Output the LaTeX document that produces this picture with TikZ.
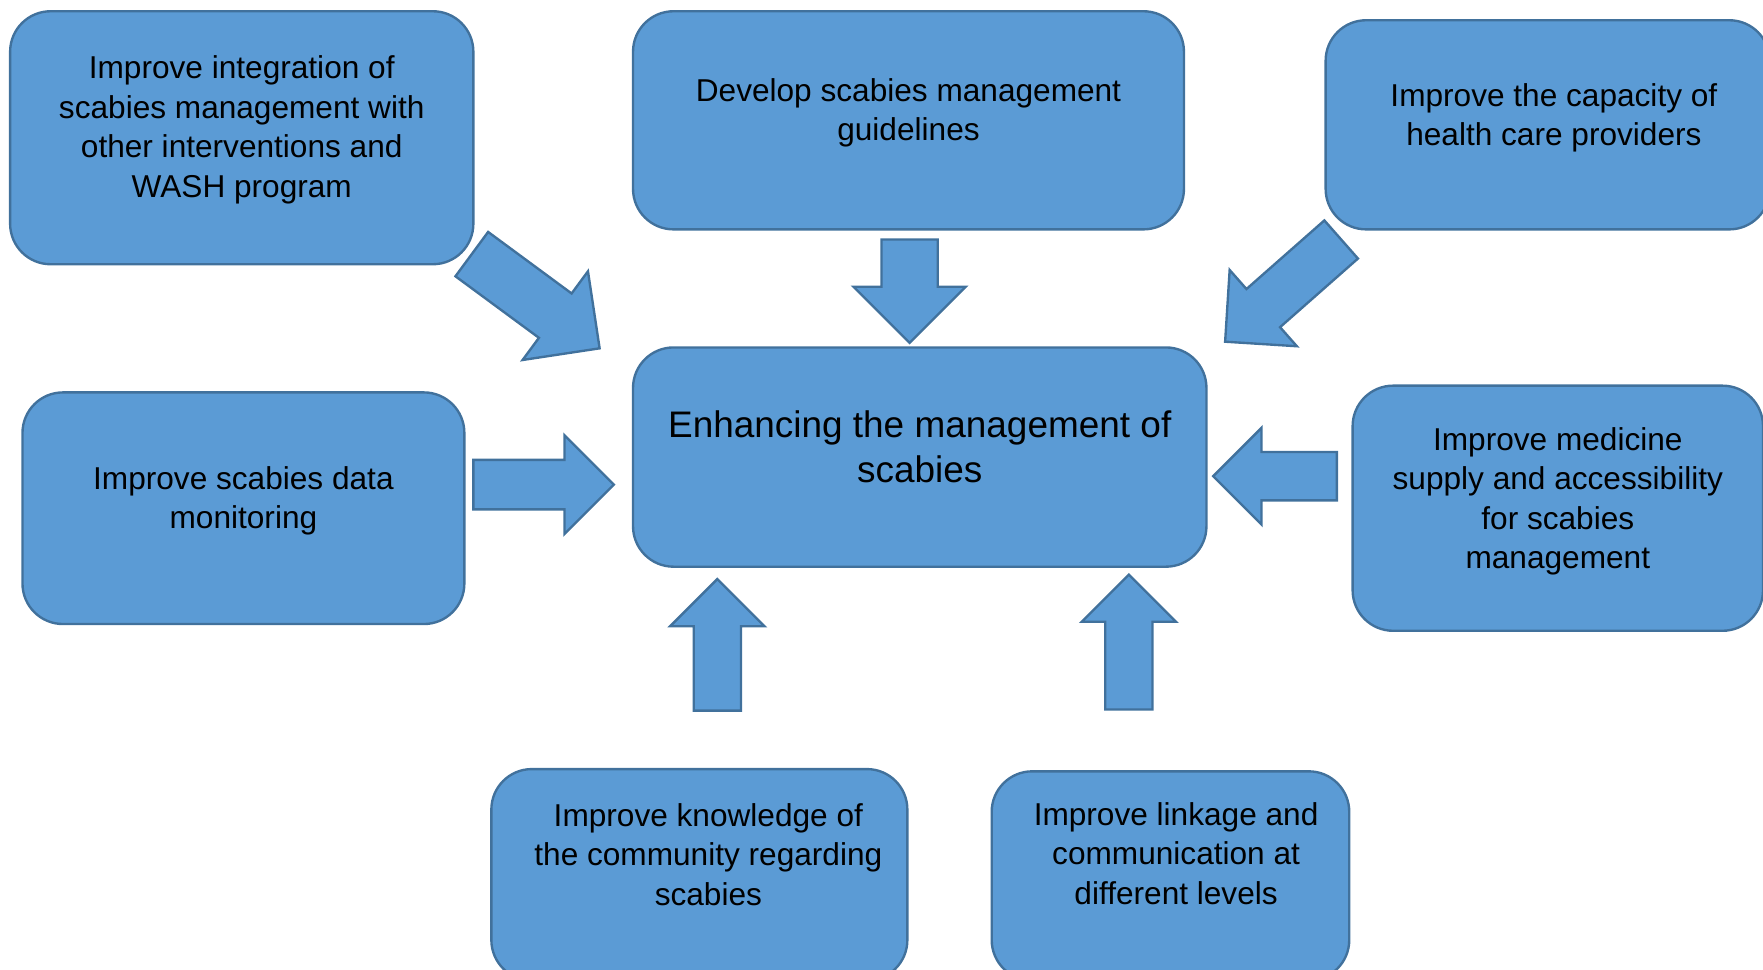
\documentclass[tikz,border=0pt]{standalone}
\usepackage{fontspec}
\setmainfont{Liberation Sans}
\usetikzlibrary{calc}
\definecolor{boxfill}{HTML}{5B9BD5}
\definecolor{boxline}{HTML}{41719C}
\tikzset{
  box/.style={rectangle, rounded corners=3.6mm, draw=boxline, fill=boxfill,
              line width=0.6pt, inner sep=0pt},
  lbl/.style={align=center, font=\fontsize{8}{10}\selectfont, text=black},
  mainlbl/.style={align=center, font=\fontsize{9.35}{11.4}\selectfont, text=black},
  barrow/.style={draw=boxline, fill=boxfill, line width=0.6pt, line join=miter},
}
% block arrow: tail #1, tip #2, half shaft width #3 (head twice as wide)
\newcommand{\blockarrow}[3]{%
  \coordinate (hb) at ($(#2)!2*#3!(#1)$);
  \draw[barrow] ($(#1)!#3!90:(#2)$) -- ($(hb)!#3!90:(#2)$) -- ($(hb)!2*#3!90:(#2)$)
    -- (#2) -- ($(hb)!2*#3!-90:(#2)$) -- ($(hb)!#3!-90:(#2)$)
    -- ($(#1)!#3!-90:(#2)$) -- cycle;
}

\begin{document}
\begin{tikzpicture}
  \useasboundingbox (0,0) rectangle (15.68,8.62);
  % centre box
  \node[box, minimum width=5.10cm, minimum height=1.95cm,
        label={[mainlbl,yshift=0.95mm]center:{Enhancing the management of\\scabies}}]
        (core) at (8.18,4.555) {};
  % top row
  \node[box, minimum width=4.12cm, minimum height=2.25cm,
        label={[lbl,yshift=0.7mm]center:{Improve integration of\\scabies management with\\other interventions and\\WASH program}}]
        (integ) at (2.15,7.395) {};
  \node[box, minimum width=4.90cm, minimum height=1.94cm,
        label={[lbl,yshift=0.65mm]center:{Develop scabies management\\guidelines}}]
        (guide) at (8.08,7.55) {};
  \node[box, minimum width=3.95cm, minimum height=1.86cm,
        label={[lbl,xshift=0.55mm,yshift=0.6mm]center:{Improve the capacity of\\health care providers}}]
        (capac) at (13.765,7.51) {};
  % middle row
  \node[box, minimum width=3.93cm, minimum height=2.06cm,
        label={[lbl,yshift=0.65mm]center:{Improve scabies data\\monitoring}}]
        (data) at (2.165,4.10) {};
  \node[box, minimum width=3.65cm, minimum height=2.18cm,
        label={[lbl,yshift=0.6mm]center:{Improve medicine\\supply and accessibility\\for scabies\\management}}]
        (medic) at (13.855,4.10) {};
  % bottom row
  \node[box, minimum width=3.70cm, minimum height=1.88cm,
        label={[lbl,xshift=0.8mm,yshift=1.8mm]center:{Improve knowledge of\\the community regarding\\scabies}}]
        (know) at (6.22,0.84) {};
  \node[box, minimum width=3.18cm, minimum height=1.86cm,
        label={[lbl,xshift=0.5mm,yshift=2.0mm]center:{Improve linkage and\\communication at\\different levels}}]
        (link) at (10.41,0.83) {};
  % arrow ends
  \coordinate (integT) at (4.196,6.36);  \coordinate (integH) at (5.333,5.522);
  \coordinate (guideT) at (8.09,6.49);   \coordinate (guideH) at (8.09,5.57);
  \coordinate (capacT) at (11.928,6.49); \coordinate (capacH) at (10.896,5.581);
  \coordinate (dataT) at (4.21,4.31);    \coordinate (dataH) at (5.46,4.31);
  \coordinate (medicT) at (11.89,4.385); \coordinate (medicH) at (10.79,4.385);
  \coordinate (knowT) at (6.38,2.30);    \coordinate (knowH) at (6.38,3.47);
  \coordinate (linkT) at (10.04,2.31);   \coordinate (linkH) at (10.04,3.51);
  % arrows into the centre box
  \blockarrow{integT}{integH}{0.245cm}
  \blockarrow{guideT}{guideH}{0.25cm}
  \blockarrow{capacT}{capacH}{0.226cm}
  \blockarrow{dataT}{dataH}{0.22cm}
  \blockarrow{medicT}{medicH}{0.215cm}
  \blockarrow{knowT}{knowH}{0.21cm}
  \blockarrow{linkT}{linkH}{0.21cm}
\end{tikzpicture}
\end{document}
